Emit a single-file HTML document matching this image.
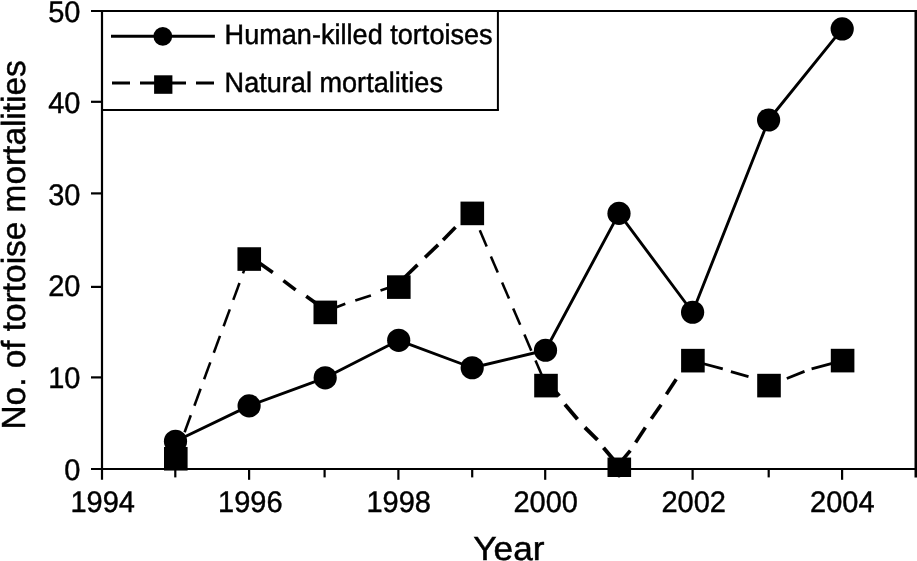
<!DOCTYPE html>
<html><head><meta charset="utf-8"><title>Tortoise mortalities</title>
<style>
html,body{margin:0;padding:0;background:#fff;}
body{width:917px;height:561px;overflow:hidden;}
svg{display:block;}
text{font-family:"Liberation Sans",Arial,Helvetica,sans-serif;fill:#000;text-rendering:geometricPrecision;}
.tk{font-size:29px;stroke:#000;stroke-width:0.42px;}
.ax{font-size:35.2px;stroke:#000;stroke-width:0.5px;}
.ay{font-size:33.4px;stroke:#000;stroke-width:0.45px;}
.lg{font-size:27.1px;stroke:#000;stroke-width:0.45px;}
</style></head><body>
<svg width="917" height="561" viewBox="0 0 917 561">
<rect x="0" y="0" width="917" height="561" fill="#fff"/>

<g stroke="#000" stroke-width="2.2" fill="none" stroke-linecap="butt">
<line x1="91" y1="11" x2="917" y2="11"/>
<line x1="91" y1="469" x2="917" y2="469"/>
<line x1="102" y1="10" x2="102" y2="479.8"/>
<line x1="916" y1="10" x2="916" y2="477.4" stroke-width="3"/>
<line x1="91" y1="377.4" x2="102" y2="377.4"/>
<line x1="91" y1="286.9" x2="102" y2="286.9"/>
<line x1="91" y1="193.4" x2="102" y2="193.4"/>
<line x1="91" y1="101.8" x2="102" y2="101.8"/>
<line x1="175.3" y1="469" x2="175.3" y2="477.4"/>
<line x1="249.1" y1="469" x2="249.1" y2="479.8"/>
<line x1="324.6" y1="469" x2="324.6" y2="477.4"/>
<line x1="398.4" y1="469" x2="398.4" y2="479.8"/>
<line x1="472.2" y1="469" x2="472.2" y2="477.4"/>
<line x1="545.2" y1="469" x2="545.2" y2="479.8"/>
<line x1="619.0" y1="469" x2="619.0" y2="477.4"/>
<line x1="692.6" y1="469" x2="692.6" y2="479.8"/>
<line x1="768.7" y1="469" x2="768.7" y2="477.4"/>
<line x1="842.1" y1="469" x2="842.1" y2="479.8"/>
</g>
<g stroke="#000" stroke-width="2" fill="none"><line x1="102" y1="110" x2="498.9" y2="110"/><line x1="497.9" y1="11" x2="497.9" y2="110"/></g>
<line x1="111" y1="36.3" x2="214.9" y2="36.3" stroke="#000" stroke-width="2.9"/>
<circle cx="162.8" cy="36.3" r="9.4" fill="#000"/>
<line x1="112" y1="83" x2="214.3" y2="83" stroke="#000" stroke-width="2.9" stroke-dasharray="18 10"/>
<rect x="154.1" y="75.3" width="18.3" height="18.5" fill="#000"/>
<text class="lg" transform="translate(224.6,44) scale(1,1.04)">Human-killed tortoises</text>
<text class="lg" transform="translate(224.6,91.8) scale(1,1.04)">Natural mortalities</text>
<polyline points="175.50,441.30 249.10,405.85 325.20,377.80 398.70,340.30 472.20,367.75 545.50,350.25 619.00,213.40 692.60,312.25 768.60,120.00 842.20,28.95" fill="none" stroke="#000" stroke-width="2.9" stroke-linejoin="round"/>
<line x1="175.4" y1="457.2" x2="181.1" y2="441.8" stroke="#000" stroke-width="2.55"/>
<line x1="184.6" y1="432.2" x2="190.8" y2="415.3" stroke="#000" stroke-width="2.55"/>
<line x1="194.4" y1="405.7" x2="200.6" y2="388.8" stroke="#000" stroke-width="2.55"/>
<line x1="204.1" y1="379.3" x2="210.3" y2="362.4" stroke="#000" stroke-width="2.55"/>
<line x1="213.8" y1="352.8" x2="220.0" y2="335.9" stroke="#000" stroke-width="2.55"/>
<line x1="223.6" y1="326.3" x2="229.8" y2="309.4" stroke="#000" stroke-width="2.55"/>
<line x1="233.3" y1="299.9" x2="239.5" y2="283.0" stroke="#000" stroke-width="2.55"/>
<line x1="243.0" y1="273.4" x2="248.8" y2="257.6" stroke="#000" stroke-width="2.55"/>
<line x1="248.8" y1="255.5" x2="272.8" y2="272.5" stroke="#000" stroke-width="3.60"/>
<line x1="283.4" y1="280.6" x2="295.6" y2="289.9" stroke="#000" stroke-width="3.60"/>
<line x1="306.2" y1="296.2" x2="322.0" y2="307.5" stroke="#000" stroke-width="3.60"/>
<line x1="328.0" y1="310.6" x2="345.3" y2="303.7" stroke="#000" stroke-width="2.65"/>
<line x1="355.3" y1="300.6" x2="370.9" y2="295.6" stroke="#000" stroke-width="2.65"/>
<line x1="380.5" y1="290.6" x2="396.0" y2="285.3" stroke="#000" stroke-width="2.65"/>
<line x1="404.0" y1="278.0" x2="417.5" y2="264.9" stroke="#000" stroke-width="3.60"/>
<line x1="425.0" y1="257.4" x2="438.1" y2="244.9" stroke="#000" stroke-width="3.60"/>
<line x1="443.1" y1="240.0" x2="455.5" y2="227.2" stroke="#000" stroke-width="3.60"/>
<line x1="471.9" y1="211.9" x2="475.5" y2="220.4" stroke="#000" stroke-width="2.55"/>
<line x1="479.8" y1="230.3" x2="486.7" y2="246.5" stroke="#000" stroke-width="2.55"/>
<line x1="490.9" y1="256.4" x2="497.8" y2="272.5" stroke="#000" stroke-width="2.55"/>
<line x1="502.1" y1="282.4" x2="509.0" y2="298.6" stroke="#000" stroke-width="2.55"/>
<line x1="513.2" y1="308.5" x2="520.2" y2="324.7" stroke="#000" stroke-width="2.55"/>
<line x1="524.4" y1="334.5" x2="531.3" y2="350.7" stroke="#000" stroke-width="2.55"/>
<line x1="535.5" y1="360.6" x2="542.5" y2="376.8" stroke="#000" stroke-width="2.55"/>
<line x1="551.0" y1="386.5" x2="559.3" y2="396.0" stroke="#000" stroke-width="3.90"/>
<line x1="565.0" y1="404.5" x2="577.5" y2="419.2" stroke="#000" stroke-width="3.90"/>
<line x1="584.9" y1="427.5" x2="597.5" y2="439.9" stroke="#000" stroke-width="3.90"/>
<line x1="603.5" y1="447.7" x2="613.0" y2="459.0" stroke="#000" stroke-width="3.90"/>
<line x1="621.0" y1="461.6" x2="630.3" y2="450.6" stroke="#000" stroke-width="3.60"/>
<line x1="635.6" y1="442.4" x2="645.4" y2="427.6" stroke="#000" stroke-width="3.60"/>
<line x1="651.3" y1="418.8" x2="661.1" y2="404.7" stroke="#000" stroke-width="3.60"/>
<line x1="666.4" y1="394.3" x2="676.2" y2="379.2" stroke="#000" stroke-width="3.60"/>
<line x1="683.0" y1="369.5" x2="687.0" y2="363.5" stroke="#000" stroke-width="3.60"/>
<line x1="697.0" y1="362.0" x2="722.8" y2="368.8" stroke="#000" stroke-width="2.75"/>
<line x1="730.9" y1="371.6" x2="748.5" y2="376.6" stroke="#000" stroke-width="2.75"/>
<line x1="786.8" y1="378.5" x2="804.5" y2="371.4" stroke="#000" stroke-width="2.75"/>
<line x1="811.6" y1="368.9" x2="835.0" y2="362.7" stroke="#000" stroke-width="2.75"/>
<clipPath id="c"><rect x="0" y="0" width="917" height="477"/></clipPath>
<circle cx="175.50" cy="441.30" r="11.6" fill="#000"/>
<circle cx="249.10" cy="405.85" r="11.6" fill="#000"/>
<circle cx="325.20" cy="377.80" r="11.6" fill="#000"/>
<circle cx="398.70" cy="340.30" r="11.6" fill="#000"/>
<circle cx="472.20" cy="367.75" r="11.6" fill="#000"/>
<circle cx="545.50" cy="350.25" r="11.6" fill="#000"/>
<circle cx="619.00" cy="213.40" r="11.6" fill="#000"/>
<circle cx="692.60" cy="312.25" r="11.6" fill="#000"/>
<circle cx="768.60" cy="120.00" r="11.6" fill="#000"/>
<circle cx="842.20" cy="28.95" r="11.6" fill="#000"/>
<g clip-path="url(#c)">
<rect x="164.00" y="446.95" width="23.6" height="23.6" fill="#000"/>
<rect x="237.45" y="247.25" width="23.6" height="23.6" fill="#000"/>
<rect x="313.50" y="300.60" width="23.6" height="23.6" fill="#000"/>
<rect x="387.00" y="275.30" width="23.6" height="23.6" fill="#000"/>
<rect x="460.50" y="201.60" width="23.6" height="23.6" fill="#000"/>
<rect x="534.20" y="373.80" width="23.6" height="23.6" fill="#000"/>
<rect x="607.50" y="457.55" width="23.6" height="23.6" fill="#000"/>
<rect x="681.10" y="348.85" width="23.6" height="23.6" fill="#000"/>
<rect x="757.20" y="373.80" width="23.6" height="23.6" fill="#000"/>
<rect x="830.80" y="348.80" width="23.6" height="23.6" fill="#000"/>
</g>
<text class="tk" transform="translate(80.5,479.6) scale(1,1.025)" text-anchor="end">0</text>
<text class="tk" transform="translate(80.5,388.0) scale(1,1.025)" text-anchor="end">10</text>
<text class="tk" transform="translate(80.5,296.4) scale(1,1.025)" text-anchor="end">20</text>
<text class="tk" transform="translate(80.5,204.8) scale(1,1.025)" text-anchor="end">30</text>
<text class="tk" transform="translate(80.5,113.3) scale(1,1.025)" text-anchor="end">40</text>
<text class="tk" transform="translate(80.5,21.6) scale(1,1.025)" text-anchor="end">50</text>
<text class="tk" transform="translate(102.7,511.5) scale(1,1.025)" text-anchor="middle">1994</text>
<text class="tk" transform="translate(250.3,511.5) scale(1,1.025)" text-anchor="middle">1996</text>
<text class="tk" transform="translate(398.7,511.5) scale(1,1.025)" text-anchor="middle">1998</text>
<text class="tk" transform="translate(545.7,511.5) scale(1,1.025)" text-anchor="middle">2000</text>
<text class="tk" transform="translate(693.7,511.5) scale(1,1.025)" text-anchor="middle">2002</text>
<text class="tk" transform="translate(842.3,511.5) scale(1,1.025)" text-anchor="middle">2004</text>
<text class="ax" transform="translate(508.9,560.3) scale(1,0.955)" text-anchor="middle">Year</text>
<text class="ay" transform="translate(24.6,244.9) rotate(-90)" text-anchor="middle">No. of tortoise mortalities</text>
</svg></body></html>
